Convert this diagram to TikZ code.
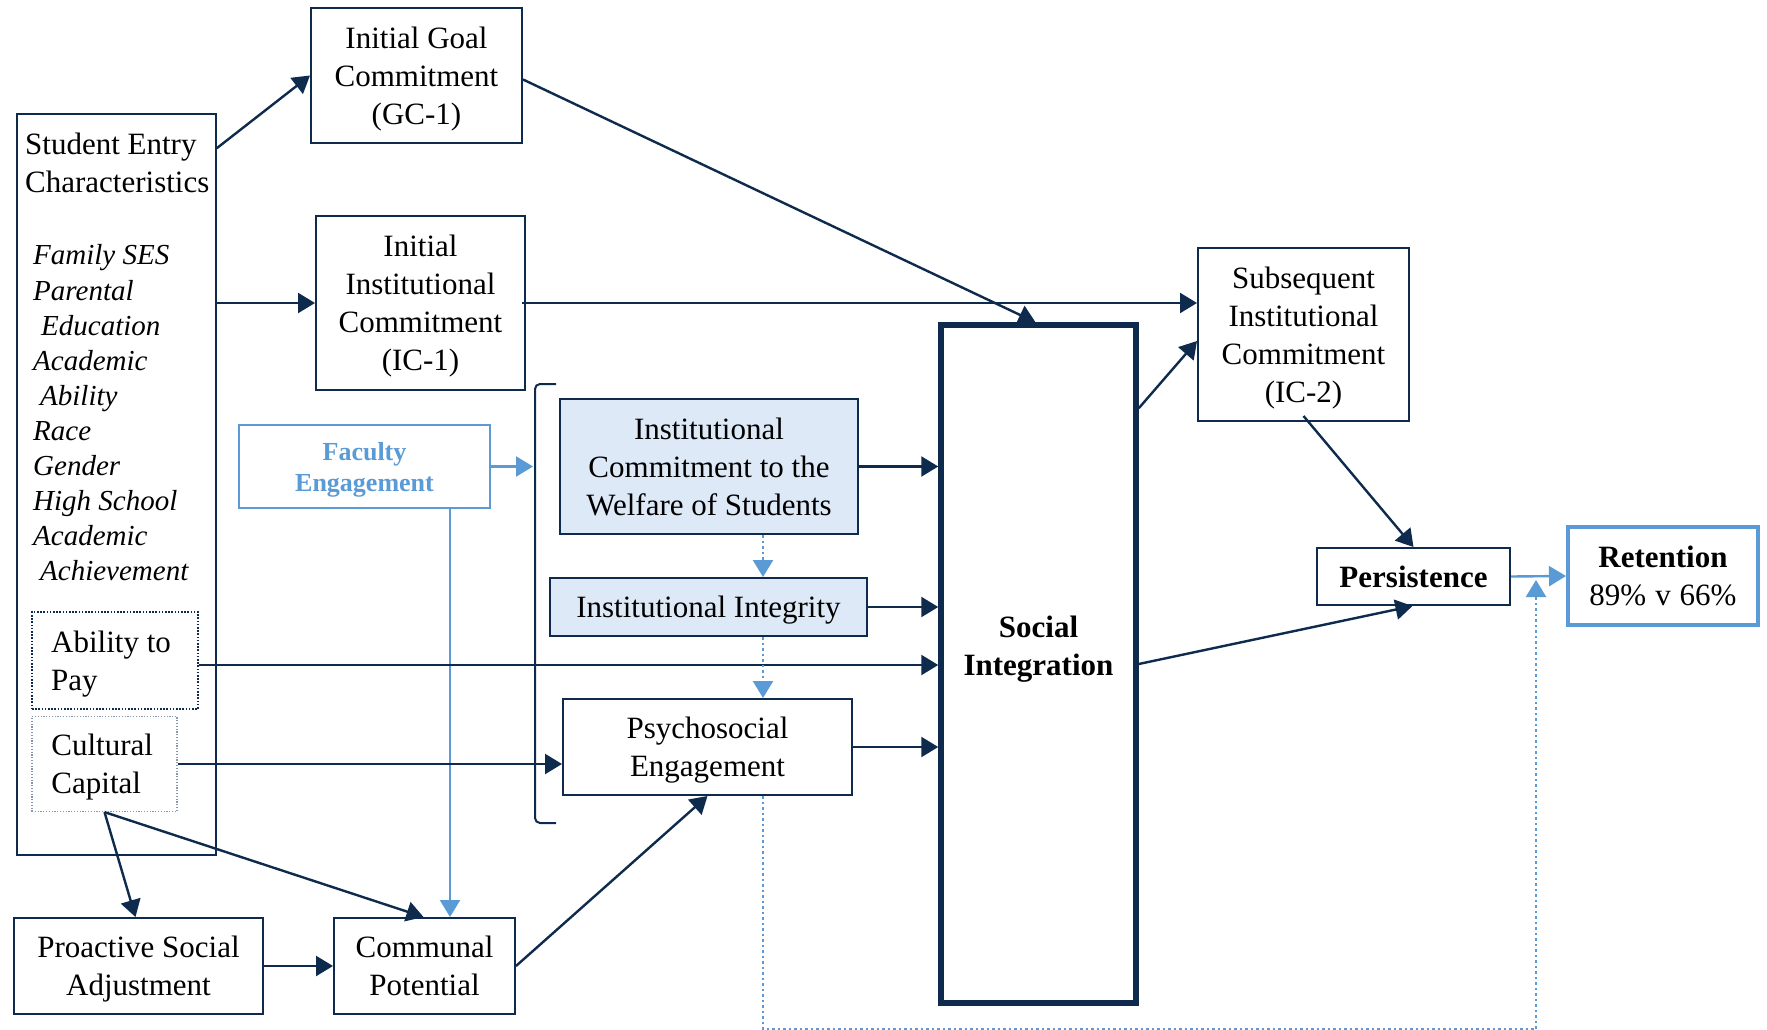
\documentclass[tikz,border=0pt]{standalone}
\usepackage{fontspec}
\setmainfont{Liberation Serif}
\usetikzlibrary{arrows.meta,calc}
\definecolor{navy}{HTML}{0E2A4D}
\definecolor{skyline}{HTML}{5B9BD5}
\definecolor{paleblue}{HTML}{DDE9F6}
\definecolor{dotgray}{HTML}{8A97AB}

\begin{document}
\begin{tikzpicture}[x=1pt,y=-1pt,
  box/.style={draw=navy,line width=2pt,rectangle,inner sep=0pt,align=center,
    text depth=0pt,text=black,font=\fontsize{31}{38}\selectfont},
  shaded/.style={box,fill=paleblue},
  tip/.style={-{Triangle[length=17pt,width=20pt]}},
  link/.style={draw=navy,line width=2.4pt,tip},
  bluelink/.style={draw=skyline,line width=2.4pt,tip},
  dotlink/.style={bluelink,dash pattern=on 2.5pt off 3pt},
]
\fill[white] (0,0) rectangle (1767,1030);
\useasboundingbox (0,0) rectangle (1767,1030);

% entry characteristics column
\node[box,line width=1.5pt,minimum width=199pt,minimum height=741pt] (sec) at (116.5,484.5) {};
\node[anchor=west,align=left,inner sep=0pt,font=\fontsize{31}{38}\selectfont] (sectitle) at (25,163)
  {Student Entry\\Characteristics};
\node[anchor=west,align=left,inner sep=0pt,font=\itshape\fontsize{29}{35.1}\selectfont] (traits) at (33,413)
  {Family SES\\Parental\\\hspace*{8pt}Education\\Academic\\\hspace*{7pt}Ability\\Race\\Gender\\High School\\Academic\\\hspace*{7pt}Achievement};
\node[box,line width=1.8pt,dash pattern=on 1.6pt off 1.6pt,align=left,
  minimum width=166pt,minimum height=97pt] (atp) at (115,660.5)
  {\mbox{Ability to\kern8pt}\\Pay};
\node[box,draw=dotgray,line width=1.2pt,dash pattern=on 1.2pt off 1.6pt,align=left,
  minimum width=145pt,minimum height=95pt] (cc) at (104.5,764)
  {\mbox{Cultural\kern4.5pt}\\Capital};

% commitments
\node[box,minimum width=211pt,minimum height=135pt] (gc1) at (416.5,75.5) {Initial Goal\\Commitment\\(GC-1)};
\node[box,minimum width=209pt,minimum height=174pt] (ic1) at (420.5,303) {Initial\\Institutional\\Commitment\\(IC-1)};
\node[box,draw=skyline,text=skyline,font=\bfseries\fontsize{26}{31}\selectfont,minimum width=251pt,minimum height=83pt] (fac) at (364.5,466.5)
  {Faculty\\Engagement};

% institutional factors
\node[shaded,minimum width=298pt,minimum height=135pt] (icws) at (709,466.5)
  {Institutional\\Commitment to the\\Welfare of Students};
\node[shaded,minimum width=317pt,minimum height=58pt] (ii) at (708.5,607) {Institutional Integrity};
\node[box,minimum width=289pt,minimum height=96pt] (pe) at (707.5,747) {Psychosocial\\Engagement};
\draw[navy,line width=2pt,rounded corners=5pt] (556,384) -- (535,384) -- (535,823) -- (556,823);
\coordinate (brk) at (533,466.5);

% social integration and outcomes
\node[box,line width=5.5pt,minimum width=195pt,minimum height=678pt] (si) at (1038.5,664) {};
\node[align=center,inner sep=0pt,text depth=0pt,font=\bfseries\fontsize{31}{38}\selectfont] (silabel) at (1038.5,646)
  {Social\\Integration};
\node[box,minimum width=211pt,minimum height=173pt] (subic) at (1303.5,334.5)
  {Subsequent\\Institutional\\Commitment\\(IC-2)};
\node[box,font=\bfseries\fontsize{31}{38}\selectfont,minimum width=193pt,minimum height=57pt] (pers) at (1413.5,576.5) {Persistence};
\node[box,draw=skyline,line width=4pt,minimum width=190pt,minimum height=98pt,text depth=-6pt] (ret) at (1663,576)
  {\textbf{Retention}\\89\%\hspace{9pt}v\hspace{9pt}66\%};

% lower row
\node[box,minimum width=249pt,minimum height=96pt] (psa) at (138.5,966) {Proactive Social\\Adjustment};
\node[box,minimum width=181pt,minimum height=96pt] (cp) at (424.5,966) {Communal\\Potential};

% helper coordinates
\coordinate (fcx) at (450,0);
\coordinate (fbx) at (763,0);
\coordinate (fb) at (1536,580);
\coordinate (atpout) at ([yshift=-4.5pt]atp.east);

% connectors
\draw[link] ([yshift=-35pt]sec.north east) -- (gc1.west);
\draw[link] (sec.east |- ic1.west) -- (ic1.west);
\draw[link] ([xshift=-4pt]ic1.east) -- (subic.west |- ic1.east);
\draw[link] ([yshift=-4pt]gc1.east) -- ([xshift=-3pt]si.north);
\draw[bluelink] (fac.east) -- (brk);
\draw[bluelink] (fac.south -| fcx) -- (cp.north -| fcx);
\draw[link] (atpout) -- (si.west |- atpout);
\draw[link] (cc.east) -- (pe.west |- cc.east);
\draw[link] (icws.east) -- (si.west |- icws.east);
\draw[link] (ii.east) -- (si.west |- ii.east);
\draw[link] (pe.east) -- (si.west |- pe.east);
\draw[dotlink] (icws.south -| fbx) -- (ii.north -| fbx);
\draw[dotlink] (ii.south -| fbx) -- (pe.north -| fbx);
\draw[link] ([yshift=-86pt]si.north east) -- ([yshift=-6.5pt]subic.west);
\draw[link] ([yshift=6pt]subic.south) -- (pers.north);
\draw[link] (si.east) -- ([xshift=-1pt]pers.south);
\draw[bluelink] (pers.east) -- (ret.west);
\draw[dotlink] (pe.south -| fbx) -- ++(0,233) -| (fb);
\draw[link] (cc.south) -- ([xshift=-3pt]psa.north);
\draw[link] (cc.south) -- ([xshift=-1pt]cp.north);
\draw[link] (psa.east) -- (cp.west);
\draw[link] (cp.east) -- (pe.south);
\end{tikzpicture}
\end{document}
